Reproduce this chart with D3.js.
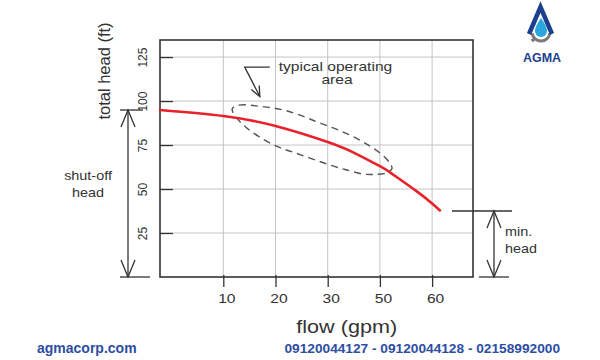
<!DOCTYPE html>
<html>
<head>
<meta charset="utf-8">
<script src="https://cdn.jsdelivr.net/npm/d3@7"></script>
<style>
  html, body { margin: 0; padding: 0; background: #fff; }
  svg { display: block; }
  text { font-family: "Liberation Sans", Arial, sans-serif; }
</style>
</head>
<body>
<svg id="chart" width="600" height="360"></svg>
<script>
// ---------------- data ----------------
const xTickValues = [10, 20, 30, 50, 60];
const xTickLabels = ["10", "20", "30", "50", "60"];
const xDomainEnds = [-2.1, 67.8];
const yTickValues = [25, 50, 75, 100, 125];
const yMax = 134.7;

// pump curve (flow gpm, total head ft)
const curveFlow = [-2.1, 10, 20, 30, 40.5, 50, 52.2, 57.0, 60, 61.5];
const curveHead = [94.9, 91.5, 85.8, 76.7, 70.3, 63.0, 58.9, 48.8, 41.8, 37.8];

// typical operating area outline
const areaFlow = [11.7, 13, 17, 21.4, 24.7, 28, 32.1, 38.5, 44.3, 50, 51.9, 52.3, 51, 48, 43.5, 37.4, 30.9, 26.6, 23.3, 20.5, 17, 14.5, 12.6];
const areaHead = [95.5, 97.7, 97, 95, 92, 88.1, 84.7, 80.7, 76.1, 70.5, 64.8, 61.5, 59, 58.3, 58.5, 60.8, 63.6, 67.6, 71, 73.9, 79.5, 84.7, 90.3];

// annotation pointer (flow, head)
const pointerFlow = [18.9, 14.1, 17];
const pointerHead = [119.3, 119.3, 102.6];

const shutOffHead = 94.9;
const minHead = 37.5;

const axisTitleX = "flow (gpm)";
const axisTitleY = "total head (ft)";
const areaLabel = ["typical operating", "area"];
const shutOffLabel = ["shut-off", "head"];
const minHeadLabel = ["min.", "head"];
const footerLeft = "agmacorp.com";
const footerRight = "09120044127 - 09120044128 - 02158992000";
const logoText = "AGMA";

// ---------------- layout ----------------
const plotLeft = 160, plotRight = 473, plotTop = 40, plotBottom = 277;
const firstTickX = 223.3, tickStep = 52.2;
const sx = 1.2; // horizontal stretch of the original image's text
const textColor = "#333";

const svg = d3.select("#chart");

const x = d3.scaleLinear()
  .domain([xDomainEnds[0], ...xTickValues, xDomainEnds[1]])
  .range([plotLeft, ...xTickValues.map((d, i) => firstTickX + i * tickStep), plotRight]);
const y = d3.scaleLinear().domain([0, yMax]).range([plotBottom, plotTop]);

function stretchedText(g, str, cx, by, size, opts = {}) {
  return g.append("text")
    .attr("transform", `translate(${cx},${by}) scale(${opts.sx || sx},1)`)
    .attr("text-anchor", opts.anchor || "middle")
    .attr("font-size", size)
    .attr("font-weight", opts.weight || "normal")
    .attr("fill", opts.fill || textColor)
    .text(str);
}

// grid
const grid = svg.append("g");
grid.selectAll("line.v").data(xTickValues).join("line")
  .attr("x1", d => x(d)).attr("x2", d => x(d))
  .attr("y1", plotTop).attr("y2", plotBottom)
  .attr("stroke", "#c4c4c4").attr("stroke-width", 1);
grid.selectAll("line.h").data(yTickValues).join("line")
  .attr("x1", plotLeft).attr("x2", plotRight)
  .attr("y1", d => y(d)).attr("y2", d => y(d))
  .attr("stroke", "#c4c4c4").attr("stroke-width", 1);

// y axis (ticks inward)
const yAxis = svg.append("g")
  .attr("transform", `translate(${plotLeft},0)`)
  .call(d3.axisLeft(y).tickValues(yTickValues).tickSize(-13).tickSizeOuter(0));
yAxis.select(".domain").remove();
yAxis.selectAll(".tick line").attr("stroke", "#333").attr("stroke-width", 1.3);
yAxis.selectAll(".tick text")
  .attr("x", null).attr("dy", null)
  .attr("transform", "translate(-13,0) rotate(-90)")
  .attr("text-anchor", "middle")
  .attr("font-size", 12)
  .attr("font-family", "Liberation Sans, Arial, sans-serif")
  .attr("fill", textColor);

// x axis
const xAxis = svg.append("g")
  .attr("transform", `translate(0,${plotBottom})`)
  .call(d3.axisBottom(x).tickValues(xTickValues).tickFormat((d, i) => xTickLabels[i]).tickSize(10).tickSizeOuter(0));
xAxis.select(".domain").remove();
xAxis.selectAll(".tick line").attr("y1", -2).attr("stroke", "#333").attr("stroke-width", 1.3);
xAxis.selectAll(".tick text").remove();
xAxis.selectAll(".tick").each(function(d, i) {
  stretchedText(d3.select(this), xTickLabels[i], 3, 26, 13);
});

// frame
svg.append("rect")
  .attr("x", plotLeft).attr("y", plotTop)
  .attr("width", plotRight - plotLeft).attr("height", plotBottom - plotTop)
  .attr("fill", "none").attr("stroke", "#333").attr("stroke-width", 1.6);

// operating area (dashed)
const areaPts = areaFlow.map((f, i) => [f, areaHead[i]]);
svg.append("path")
  .attr("d", d3.line().x(d => x(d[0])).y(d => y(d[1])).curve(d3.curveCatmullRomClosed.alpha(0.5))(areaPts))
  .attr("fill", "none").attr("stroke", "#555").attr("stroke-width", 1.4)
  .attr("stroke-dasharray", "7,5");

// pump curve
const curvePts = curveFlow.map((f, i) => [f, curveHead[i]]);
svg.append("path")
  .attr("d", d3.line().x(d => x(d[0])).y(d => y(d[1])).curve(d3.curveNatural)(curvePts))
  .attr("fill", "none").attr("stroke", "#e8212b").attr("stroke-width", 2.6)
  .attr("stroke-linecap", "round");

// arrow helpers
function vArrow(g, xx, yTop, yBot) {
  const w = 7, h = 17;
  g.append("line").attr("x1", xx).attr("x2", xx).attr("y1", yTop).attr("y2", yBot);
  g.append("polyline").attr("points", `${xx - w},${yTop + h} ${xx},${yTop} ${xx + w},${yTop + h}`).attr("fill", "none");
  g.append("polyline").attr("points", `${xx - w},${yBot - h} ${xx},${yBot} ${xx + w},${yBot - h}`).attr("fill", "none");
}

// shut-off head annotation
const ann = svg.append("g").attr("stroke", "#333").attr("stroke-width", 1.3);
const soX = plotLeft - 32;
vArrow(ann, soX, y(shutOffHead), y(0));
ann.append("line").attr("x1", plotLeft - 40).attr("x2", plotLeft - 17).attr("y1", y(shutOffHead)).attr("y2", y(shutOffHead));
ann.append("line").attr("x1", plotLeft - 40).attr("x2", plotLeft - 10).attr("y1", y(0)).attr("y2", y(0));
stretchedText(svg, shutOffLabel[0], 88, 180, 12);
stretchedText(svg, shutOffLabel[1], 88, 197, 12);

// min head annotation
const mhX = plotRight + 21;
vArrow(ann, mhX, y(minHead), y(0));
ann.append("line").attr("x1", plotRight - 21).attr("x2", plotRight + 39).attr("y1", y(minHead)).attr("y2", y(minHead));
ann.append("line").attr("x1", plotRight + 6).attr("x2", plotRight + 36).attr("y1", y(0)).attr("y2", y(0));
stretchedText(svg, minHeadLabel[0], 505, 236, 12, { anchor: "start" });
stretchedText(svg, minHeadLabel[1], 505, 253, 12, { anchor: "start" });

// operating area pointer
const ptr = pointerFlow.map((f, i) => [x(f), y(pointerHead[i])]);
ann.append("polyline").attr("points", ptr.map(p => p.join(",")).join(" ")).attr("fill", "none");
{
  const [p1, p2] = [ptr[1], ptr[2]];
  const ang = Math.atan2(p2[1] - p1[1], p2[0] - p1[0]);
  const L = 11, a = 0.42;
  const w1 = [p2[0] - L * Math.cos(ang - a), p2[1] - L * Math.sin(ang - a)];
  const w2 = [p2[0] - L * Math.cos(ang + a), p2[1] - L * Math.sin(ang + a)];
  ann.append("polyline").attr("points", `${w1.join(",")} ${p2.join(",")} ${w2.join(",")}`).attr("fill", "none");
}
stretchedText(svg, areaLabel[0], 335.5, 70.5, 13);
stretchedText(svg, areaLabel[1], 337, 84, 13);

// axis titles
stretchedText(svg, axisTitleX, 346.7, 333, 18);
svg.append("text")
  .attr("transform", `translate(${plotLeft - 50},71) rotate(-90)`)
  .attr("text-anchor", "middle")
  .attr("font-size", 16.5)
  .attr("fill", textColor)
  .text(axisTitleY);

// footer
svg.append("text").attr("x", 37).attr("y", 353)
  .attr("font-size", 14).attr("font-weight", "bold").attr("fill", "#2d4ea3").text(footerLeft);
svg.append("text").attr("x", 560).attr("y", 353).attr("text-anchor", "end")
  .attr("font-size", 13.7).attr("font-weight", "bold").attr("fill", "#2d4ea3").text(footerRight);

// logo
const logo = svg.append("g");
const gearArc = d3.arc().innerRadius(7.5).outerRadius(10.5).startAngle(Math.PI / 2 + 0.15).endAngle(3 * Math.PI / 2 - 0.15);
logo.append("path").attr("transform", "translate(541,32)").attr("d", gearArc()).attr("fill", "#7a7a7a");
[0.75, 1.0, 1.25].forEach(t => {
  const toothArc = d3.arc().innerRadius(9).outerRadius(13).startAngle(Math.PI * t + Math.PI * 0.5 - 0.14).endAngle(Math.PI * t + Math.PI * 0.5 + 0.14);
  logo.append("path").attr("transform", "translate(541,32)").attr("d", toothArc()).attr("fill", "#7a7a7a");
});
logo.append("polyline").attr("points", "529,34 540.5,7 552,34")
  .attr("fill", "none").attr("stroke", "#1d3f8e").attr("stroke-width", 4.5).attr("stroke-linejoin", "miter");
logo.append("path")
  .attr("d", "M541,18 Q535,26.5 535,31 A6,6 0 0 0 547,31 Q547,26.5 541,18 Z")
  .attr("fill", "#2aa6df");
logo.append("text").attr("x", 542).attr("y", 62).attr("text-anchor", "middle")
  .attr("font-size", 12.5).attr("font-weight", "bold").attr("fill", "#1d3f8e").text(logoText);
</script>
</body>
</html>
